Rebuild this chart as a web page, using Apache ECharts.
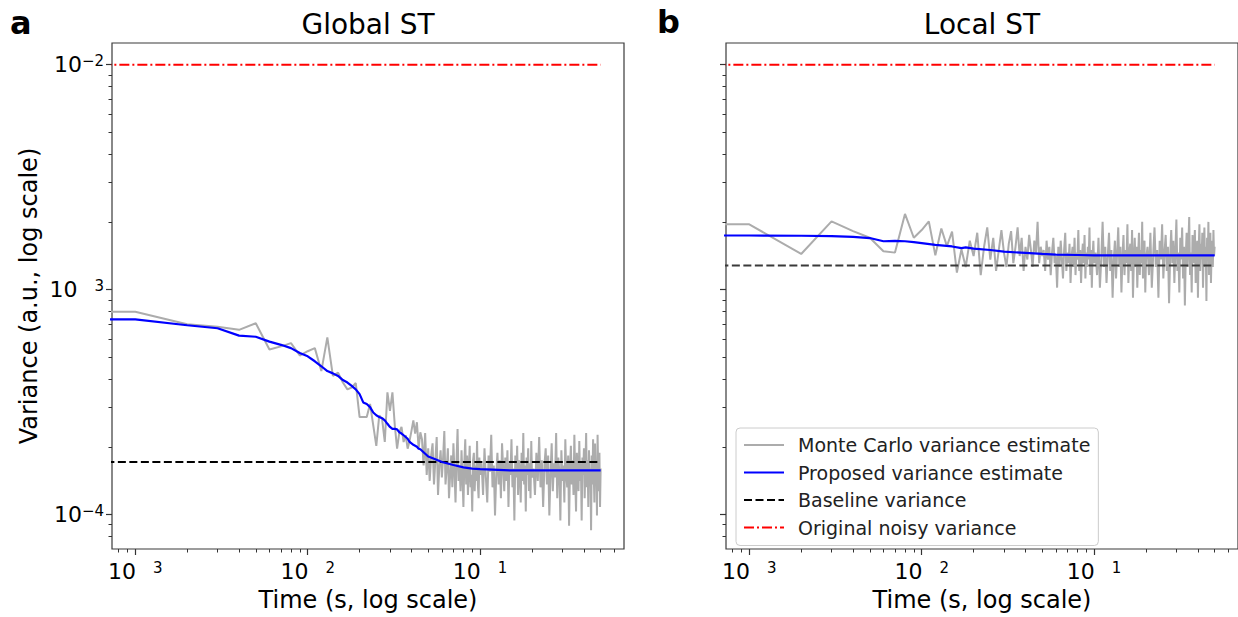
<!DOCTYPE html>
<html><head><meta charset="utf-8">
<script src="https://cdn.jsdelivr.net/npm/echarts@6.0.0/dist/echarts.min.js"></script>
<style>html,body{margin:0;padding:0;background:#fff}#chart{width:1238px;height:617px}</style>
</head><body><div id="chart"></div>
<script>
// ---------- DATA ----------
// time grid of the Monte Carlo estimates (s); first entry stands for t = 0, clipped on a log axis
const timeMC = [0.0005,
0.001,0.002,0.003,0.004,0.005,0.006,0.007,0.008,0.009,0.010,
0.011,0.012,0.013,0.014,0.015,0.016,0.017,0.018,0.019,0.020,
0.021,0.022,0.023,0.024,0.025,0.026,0.027,0.028,0.029,0.030,
0.031,0.032,0.033,0.034,0.035,0.036,0.037,0.038,0.039,0.040,
0.041,0.042,0.043,0.044,0.045,0.046,0.047,0.048,0.049,0.050,
0.051,0.052,0.053,0.054,0.055,0.056,0.057,0.058,0.059,0.060,
0.061,0.062,0.063,0.064,0.065,0.066,0.067,0.068,0.069,0.070,
0.071,0.072,0.073,0.074,0.075,0.076,0.077,0.078,0.079,0.080,
0.081,0.082,0.083,0.084,0.085,0.086,0.087,0.088,0.089,0.090,
0.091,0.092,0.093,0.094,0.095,0.096,0.097,0.098,0.099,0.100,
0.102,0.104,0.106,0.108,0.110,0.112,0.114,0.116,0.118,0.120,
0.122,0.124,0.126,0.128,0.130,0.132,0.134,0.136,0.138,0.140,
0.142,0.144,0.146,0.148,0.150,0.152,0.154,0.156,0.158,0.160,
0.162,0.164,0.166,0.168,0.170,0.172,0.174,0.176,0.178,0.180,
0.182,0.184,0.186,0.188,0.190,0.192,0.194,0.196,0.198,0.200,
0.204,0.208,0.212,0.216,0.220,0.224,0.228,0.232,0.236,0.240,
0.244,0.248,0.252,0.256,0.260,0.264,0.268,0.272,0.276,0.280,
0.284,0.288,0.292,0.296,0.300,0.304,0.308,0.312,0.316,0.320,
0.324,0.328,0.332,0.336,0.340,0.344,0.348,0.352,0.356,0.360,
0.364,0.368,0.372,0.376,0.380,0.384,0.388,0.392,0.396,0.400,
0.404,0.408,0.412,0.416,0.420,0.424,0.428,0.432,0.436,0.440,
0.444,0.448,0.452,0.456,0.460,0.464,0.468,0.472,0.476,0.480,
0.484,0.488,0.492,0.496,0.500];

// Monte Carlo variance estimate, Global ST
const mcGlobal = [7.97e-4,
7.97e-4,7.01e-4,6.84e-4,6.62e-4,7.08e-4,5.41e-4,5.59e-4,5.78e-4,5.09e-4,5.32e-4,
5.49e-4,4.34e-4,6.13e-4,4.13e-4,4.27e-4,3.86e-4,3.60e-4,3.67e-4,3.84e-4,2.71e-4,
2.71e-4,2.71e-4,3.10e-4,2.49e-4,2.02e-4,2.76e-4,2.66e-4,2.10e-4,3.49e-4,2.89e-4,
3.49e-4,2.49e-4,1.96e-4,2.32e-4,2.45e-4,2.10e-4,2.25e-4,1.96e-4,2.13e-4,2.36e-4,
2.62e-4,2.29e-4,2.57e-4,1.96e-4,2.32e-4,2.16e-4,1.65e-4,2.30e-4,1.50e-4,1.97e-4,
1.41e-4,1.83e-4,2.07e-4,1.36e-4,1.74e-4,2.21e-4,1.22e-4,1.65e-4,1.93e-4,1.46e-4,
1.79e-4,2.35e-4,1.36e-4,1.60e-4,1.97e-4,1.18e-4,1.50e-4,1.83e-4,1.32e-4,2.07e-4,
1.55e-4,1.13e-4,1.74e-4,2.40e-4,1.41e-4,1.65e-4,1.27e-4,1.93e-4,1.46e-4,1.08e-4,
1.69e-4,2.16e-4,1.36e-4,1.83e-4,1.22e-4,1.60e-4,2.02e-4,1.32e-4,1.50e-4,1.03e-4,
1.74e-4,1.88e-4,1.27e-4,1.65e-4,1.41e-4,2.12e-4,1.36e-4,1.18e-4,1.79e-4,1.50e-4,
1.69e-4,1.22e-4,1.97e-4,1.46e-4,1.13e-4,1.83e-4,1.55e-4,2.26e-4,1.32e-4,1.65e-4,
0.99e-4,1.50e-4,1.88e-4,1.36e-4,1.74e-4,1.18e-4,2.07e-4,1.60e-4,1.27e-4,1.79e-4,
1.41e-4,1.93e-4,1.08e-4,1.69e-4,1.50e-4,2.16e-4,1.32e-4,1.60e-4,0.94e-4,1.83e-4,
1.46e-4,2.02e-4,1.22e-4,1.74e-4,1.55e-4,1.13e-4,1.88e-4,1.41e-4,2.30e-4,1.36e-4,
1.65e-4,1.03e-4,1.79e-4,1.50e-4,1.97e-4,1.27e-4,1.69e-4,1.18e-4,2.12e-4,1.46e-4,
1.60e-4,1.22e-4,1.88e-4,1.41e-4,2.21e-4,1.32e-4,1.74e-4,1.08e-4,1.65e-4,1.97e-4,
1.36e-4,1.83e-4,0.99e-4,1.50e-4,2.07e-4,1.27e-4,1.69e-4,1.46e-4,2.30e-4,1.18e-4,
1.79e-4,1.55e-4,0.94e-4,1.93e-4,1.41e-4,1.65e-4,1.13e-4,2.16e-4,1.50e-4,1.32e-4,
1.83e-4,0.89e-4,1.60e-4,2.02e-4,1.36e-4,1.74e-4,1.22e-4,2.26e-4,1.46e-4,1.03e-4,
1.88e-4,1.55e-4,1.27e-4,2.12e-4,1.41e-4,1.69e-4,0.94e-4,1.79e-4,1.50e-4,1.97e-4,
1.18e-4,1.65e-4,2.30e-4,1.32e-4,1.74e-4,1.08e-4,1.93e-4,1.46e-4,1.60e-4,0.85e-4,
1.83e-4,1.36e-4,2.16e-4,1.50e-4,1.13e-4,2.07e-4,1.41e-4,1.69e-4,0.99e-4,2.26e-4,
1.55e-4,1.27e-4,1.88e-4,1.08e-4,1.60e-4];

// Monte Carlo variance estimate, Local ST
const mcLocal = [1.95e-3,
1.95e-3,1.44e-3,2.01e-3,1.82e-3,1.70e-3,1.48e-3,1.46e-3,2.17e-3,1.70e-3,1.84e-3,
2.01e-3,1.42e-3,1.87e-3,1.56e-3,1.81e-3,1.19e-3,1.51e-3,1.26e-3,1.65e-3,1.41e-3,
1.79e-3,1.16e-3,1.55e-3,1.89e-3,1.36e-3,1.70e-3,1.21e-3,1.50e-3,1.84e-3,1.46e-3,
1.26e-3,1.60e-3,1.82e-3,1.31e-3,1.55e-3,1.89e-3,1.41e-3,1.70e-3,1.21e-3,1.55e-3,
1.36e-3,1.75e-3,1.50e-3,1.26e-3,1.65e-3,1.46e-3,2.00e-3,1.31e-3,1.55e-3,1.41e-3,
1.50e-3,1.21e-3,1.65e-3,1.36e-3,1.55e-3,1.16e-3,1.46e-3,1.70e-3,1.31e-3,1.41e-3,
1.02e-3,1.55e-3,1.26e-3,1.65e-3,1.36e-3,1.12e-3,1.50e-3,1.79e-3,1.21e-3,1.46e-3,
1.31e-3,1.60e-3,1.07e-3,1.41e-3,1.55e-3,1.26e-3,1.70e-3,1.16e-3,1.46e-3,1.36e-3,
1.84e-3,1.21e-3,1.50e-3,1.07e-3,1.41e-3,1.60e-3,1.31e-3,1.75e-3,1.12e-3,1.46e-3,
1.26e-3,1.55e-3,1.36e-3,1.89e-3,1.16e-3,1.50e-3,1.02e-3,1.41e-3,1.65e-3,1.31e-3,
1.46e-3,1.16e-3,1.70e-3,1.02e-3,1.36e-3,2.00e-3,1.26e-3,1.55e-3,1.07e-3,1.41e-3,
1.79e-3,1.21e-3,1.50e-3,0.92e-3,1.36e-3,1.65e-3,1.12e-3,1.46e-3,1.89e-3,1.26e-3,
1.55e-3,0.97e-3,1.41e-3,1.75e-3,1.16e-3,1.50e-3,1.31e-3,1.95e-3,1.07e-3,1.46e-3,
1.60e-3,1.21e-3,1.84e-3,0.92e-3,1.36e-3,1.70e-3,1.26e-3,1.55e-3,1.02e-3,1.41e-3,
1.79e-3,1.16e-3,1.50e-3,1.31e-3,2.00e-3,1.12e-3,1.46e-3,1.65e-3,0.97e-3,1.36e-3,
1.55e-3,1.16e-3,1.79e-3,1.02e-3,1.41e-3,1.89e-3,1.26e-3,1.50e-3,0.92e-3,1.65e-3,
1.36e-3,1.95e-3,1.12e-3,1.46e-3,1.75e-3,1.21e-3,1.55e-3,0.87e-3,1.41e-3,1.84e-3,
1.31e-3,1.65e-3,1.07e-3,1.50e-3,2.05e-3,1.21e-3,1.46e-3,0.97e-3,1.70e-3,1.36e-3,
1.89e-3,1.12e-3,1.55e-3,0.85e-3,1.41e-3,1.79e-3,1.26e-3,1.60e-3,2.10e-3,1.16e-3,
1.46e-3,0.97e-3,1.75e-3,1.31e-3,1.55e-3,1.84e-3,1.07e-3,1.41e-3,1.65e-3,0.92e-3,
1.50e-3,1.95e-3,1.21e-3,1.60e-3,1.36e-3,1.79e-3,1.02e-3,1.46e-3,1.89e-3,1.26e-3,
1.55e-3,0.89e-3,1.70e-3,1.36e-3,2.00e-3,1.16e-3,1.50e-3,1.79e-3,1.07e-3,1.46e-3,
1.65e-3,1.26e-3,1.84e-3,1.41e-3,1.55e-3];

// Proposed variance estimate
const timePropGlobal = [0.0005,
0.001,0.002,0.003,0.004,0.005,0.006,0.007,0.008,0.009,0.010,
0.011,0.012,0.013,0.014,0.015,0.016,0.017,0.018,0.019,0.020,
0.021,0.022,0.023,0.024,0.025,0.026,0.027,0.028,0.029,0.030,
0.031,0.032,0.033,0.034,0.035,0.036,0.037,0.038,0.039,0.040,
0.041,0.042,0.043,0.044,0.045,
0.050,0.055,0.060,0.070,0.080,0.090,0.100,0.150,0.500];
const propGlobal = [7.37e-4,
7.37e-4,6.94e-4,6.73e-4,6.24e-4,6.17e-4,5.87e-4,5.68e-4,5.49e-4,5.22e-4,5.05e-4,
4.80e-4,4.56e-4,4.34e-4,4.24e-4,4.13e-4,3.96e-4,3.86e-4,3.73e-4,3.60e-4,3.43e-4,
3.15e-4,3.10e-4,3.00e-4,2.84e-4,2.76e-4,2.71e-4,2.68e-4,2.62e-4,2.53e-4,2.45e-4,
2.40e-4,2.40e-4,2.39e-4,2.32e-4,2.29e-4,2.25e-4,2.21e-4,2.17e-4,2.10e-4,2.07e-4,
2.04e-4,2.02e-4,2.00e-4,1.96e-4,1.95e-4,
1.81e-4,1.76e-4,1.71e-4,1.66e-4,1.62e-4,1.60e-4,1.59e-4,1.57e-4,1.57e-4];

const timePropLocal = [0.0005,0.001,0.002,0.003,0.004,0.005,0.006,0.007,0.008,0.009,0.010,
0.012,0.015,0.017,0.018,0.020,0.025,0.030,0.040,0.050,0.060,0.080,0.100,0.200,0.500];
const propLocal = [1.74e-3,1.74e-3,1.735e-3,1.73e-3,1.715e-3,1.695e-3,1.64e-3,1.645e-3,1.64e-3,1.625e-3,1.61e-3,
1.58e-3,1.555e-3,1.53e-3,1.54e-3,1.52e-3,1.50e-3,1.475e-3,1.455e-3,1.44e-3,1.43e-3,1.425e-3,1.42e-3,1.42e-3,1.42e-3];

// horizontal reference levels, drawn over t = 0 ... 0.5
const timeRef = [0.0005, 0.500];
const baselineGlobal = 1.71e-4;
const baselineLocal = 1.28e-3;
const originalNoisy = 1.0e-2;

// axis ticks
const xMajorTicks = [0.001, 0.01, 0.1];
const xTickLabels = ['10 3', '10 2', '10 1'];
const xMinorTicks = [0.0008,0.0009,0.002,0.003,0.004,0.005,0.006,0.007,0.008,0.009,
  0.02,0.03,0.04,0.05,0.06,0.07,0.08,0.09,0.2,0.3,0.4,0.5,0.6];
const yMajorTicks = [1e-4, 1e-3, 1e-2];
const yTickLabels = ['10−4', '10 3', '10−2'];
const yMinorTicks = [8e-5,9e-5,2e-4,3e-4,4e-4,5e-4,6e-4,7e-4,8e-4,9e-4,
  2e-3,3e-3,4e-3,5e-3,6e-3,7e-3,8e-3,9e-3];

const panelTitles = ['Global ST', 'Local ST'];
const panelLetters = ['a', 'b'];
const seriesNames = ['Monte Carlo variance estimate', 'Proposed variance estimate', 'Baseline variance', 'Original noisy variance'];

// ---------- CHART ----------
const X_MIN = 0.000733, X_MAX = 0.683, Y_MIN = 7.02e-5, Y_MAX = 0.01249;
const FONT = 'DejaVu Sans';
const lg = Math.log10;

if (mcGlobal.length !== timeMC.length || mcLocal.length !== timeMC.length ||
    propGlobal.length !== timePropGlobal.length || propLocal.length !== timePropLocal.length) {
  throw new Error('length mismatch ' + [timeMC.length, mcGlobal.length, mcLocal.length, timePropGlobal.length, propGlobal.length, timePropLocal.length, propLocal.length].join(','));
}

function zip(t, v) { return t.map((x, i) => [x, v[i]]); }
function tickRich(label) {
  const base = label.slice(0, 2), rest = label.slice(2);
  if (rest.charAt(0) === ' ') return '{b|' + base + '}{g|}{s|' + rest.trim() + '}';
  return '{b|' + base + '}{s|' + rest + '}';
}
function makeFormatter(values, labels) {
  return function (v) {
    for (let i = 0; i < values.length; i++) {
      if (Math.abs(lg(values[i]) - v) < 1e-6) return tickRich(labels[i]);
    }
    return '';
  };
}
const rich = {
  b: { fontSize: 22, fontFamily: FONT, color: '#000', lineHeight: 22 },
  s: { fontSize: 15, fontFamily: FONT, color: '#000', lineHeight: 12, verticalAlign: 'top' },
  g: { width: 17, height: 1 }
};
const TICK_COLOR = '#333';
const grids = [
  { left: 112, top: 43, width: 512, height: 512 },
  { left: 726, top: 43, width: 512, height: 512 }
];

const xAxes = [], yAxes = [], series = [];
grids.forEach((g, i) => {
  g.show = true; g.borderColor = '#3a3a3a'; g.borderWidth = 1.2; g.backgroundColor = 'transparent';
  // data axes (log)
  xAxes.push({ type: 'log', logBase: 10, gridIndex: i, min: X_MIN, max: X_MAX, show: false });
  yAxes.push({ type: 'log', logBase: 10, gridIndex: i, min: Y_MIN, max: Y_MAX, show: false });
  // tick axes (major)
  xAxes.push({
    type: 'value', gridIndex: i, min: lg(X_MIN), max: lg(X_MAX), position: 'bottom',
    axisLine: { show: false, onZero: false }, splitLine: { show: false },
    axisTick: { show: true, length: 6, customValues: xMajorTicks.map(lg), lineStyle: { color: TICK_COLOR, width: 1.2 } },
    axisLabel: { show: true, customValues: xMajorTicks.map(lg), formatter: makeFormatter(xMajorTicks, xTickLabels), rich: rich, margin: 11 },
    name: 'Time (s, log scale)', nameLocation: 'middle', nameGap: 39,
    nameTextStyle: { fontSize: 24, fontFamily: FONT, color: '#000' }
  });
  yAxes.push({
    type: 'value', gridIndex: i, min: lg(Y_MIN), max: lg(Y_MAX), position: 'left',
    axisLine: { show: false, onZero: false }, splitLine: { show: false },
    axisTick: { show: true, length: 6, customValues: yMajorTicks.map(lg), lineStyle: { color: TICK_COLOR, width: 1.2 } },
    axisLabel: { show: i === 0, customValues: yMajorTicks.map(lg), formatter: makeFormatter(yMajorTicks, yTickLabels), rich: rich, margin: 8 },
    name: i === 0 ? 'Variance (a.u., log scale)' : '', nameLocation: 'middle', nameGap: 71,
    nameTextStyle: { fontSize: 24, fontFamily: FONT, color: '#000' }
  });
  // tick axes (minor)
  xAxes.push({
    type: 'value', gridIndex: i, min: lg(X_MIN), max: lg(X_MAX), position: 'bottom',
    axisLine: { show: false, onZero: false }, splitLine: { show: false },
    axisTick: { show: true, length: 3.5, customValues: xMinorTicks.map(lg), lineStyle: { color: TICK_COLOR, width: 1 } },
    axisLabel: { show: false }
  });
  yAxes.push({
    type: 'value', gridIndex: i, min: lg(Y_MIN), max: lg(Y_MAX), position: 'left',
    axisLine: { show: false, onZero: false }, splitLine: { show: false },
    axisTick: { show: true, length: 3.5, customValues: yMinorTicks.map(lg), lineStyle: { color: TICK_COLOR, width: 1 } },
    axisLabel: { show: false }
  });

  const common = { type: 'line', xAxisIndex: 3 * i, yAxisIndex: 3 * i, symbol: 'none', showSymbol: false,
    animation: false, silent: true, clip: true, emphasis: { disabled: true } };
  const mc = i === 0 ? mcGlobal : mcLocal;
  const tp = i === 0 ? timePropGlobal : timePropLocal;
  const pv = i === 0 ? propGlobal : propLocal;
  const bl = i === 0 ? baselineGlobal : baselineLocal;
  series.push(Object.assign({}, common, { name: seriesNames[0], z: 2, data: zip(timeMC, mc),
    lineStyle: { color: '#acacac', width: 2 }, itemStyle: { color: '#acacac' } }));
  series.push(Object.assign({}, common, { name: seriesNames[1], z: 4, data: zip(tp, pv),
    lineStyle: { color: '#0000ff', width: 2.2 }, itemStyle: { color: '#0000ff' } }));
  series.push(Object.assign({}, common, { name: seriesNames[2], z: 3, data: timeRef.map(t => [t, bl]),
    lineStyle: { color: i === 0 ? '#000' : '#3a3a3a', width: 2, type: [8, 3.5] }, itemStyle: { color: '#000' } }));
  series.push(Object.assign({}, common, { name: seriesNames[3], z: 5, data: timeRef.map(t => [t, originalNoisy]),
    lineStyle: { color: '#ff0000', width: 2, type: [10, 3, 2, 3] }, itemStyle: { color: '#ff0000' } }));
});

const graphic = [
  { type: 'text', x: 368, y: 24, style: { text: panelTitles[0], fill: '#000', font: '28px "DejaVu Sans"', textAlign: 'center', textVerticalAlign: 'middle' } },
  { type: 'text', x: 982, y: 24, style: { text: panelTitles[1], fill: '#000', font: '28px "DejaVu Sans"', textAlign: 'center', textVerticalAlign: 'middle' } },
  { type: 'text', x: 10, y: 23, style: { text: panelLetters[0], fill: '#000', font: 'bold 32px "DejaVu Sans"', textAlign: 'left', textVerticalAlign: 'middle' } },
  { type: 'text', x: 657, y: 22, style: { text: panelLetters[1], fill: '#000', font: 'bold 32px "DejaVu Sans"', textAlign: 'left', textVerticalAlign: 'middle' } }
];

const chart = echarts.init(document.getElementById('chart'), null, { renderer: 'svg', width: 1238, height: 617 });
chart.setOption({
  animation: false,
  backgroundColor: '#fff',
  textStyle: { fontFamily: FONT },
  grid: grids,
  xAxis: xAxes,
  yAxis: yAxes,
  series: series,
  graphic: graphic,
  legend: {
    data: seriesNames, orient: 'vertical', left: 736, top: 428,
    itemWidth: 40, itemHeight: 14, itemGap: 7.5, padding: [7, 8, 8, 7],
    borderColor: '#cccccc', borderWidth: 1, borderRadius: 4, backgroundColor: 'rgba(255,255,255,0.85)',
    selectedMode: false, z: 20,
    itemStyle: { opacity: 0 },
    textStyle: { fontSize: 19, fontFamily: FONT, color: '#222', lineHeight: 20, padding: [0, 0, 0, 9] }
  }
});
</script></body></html>
